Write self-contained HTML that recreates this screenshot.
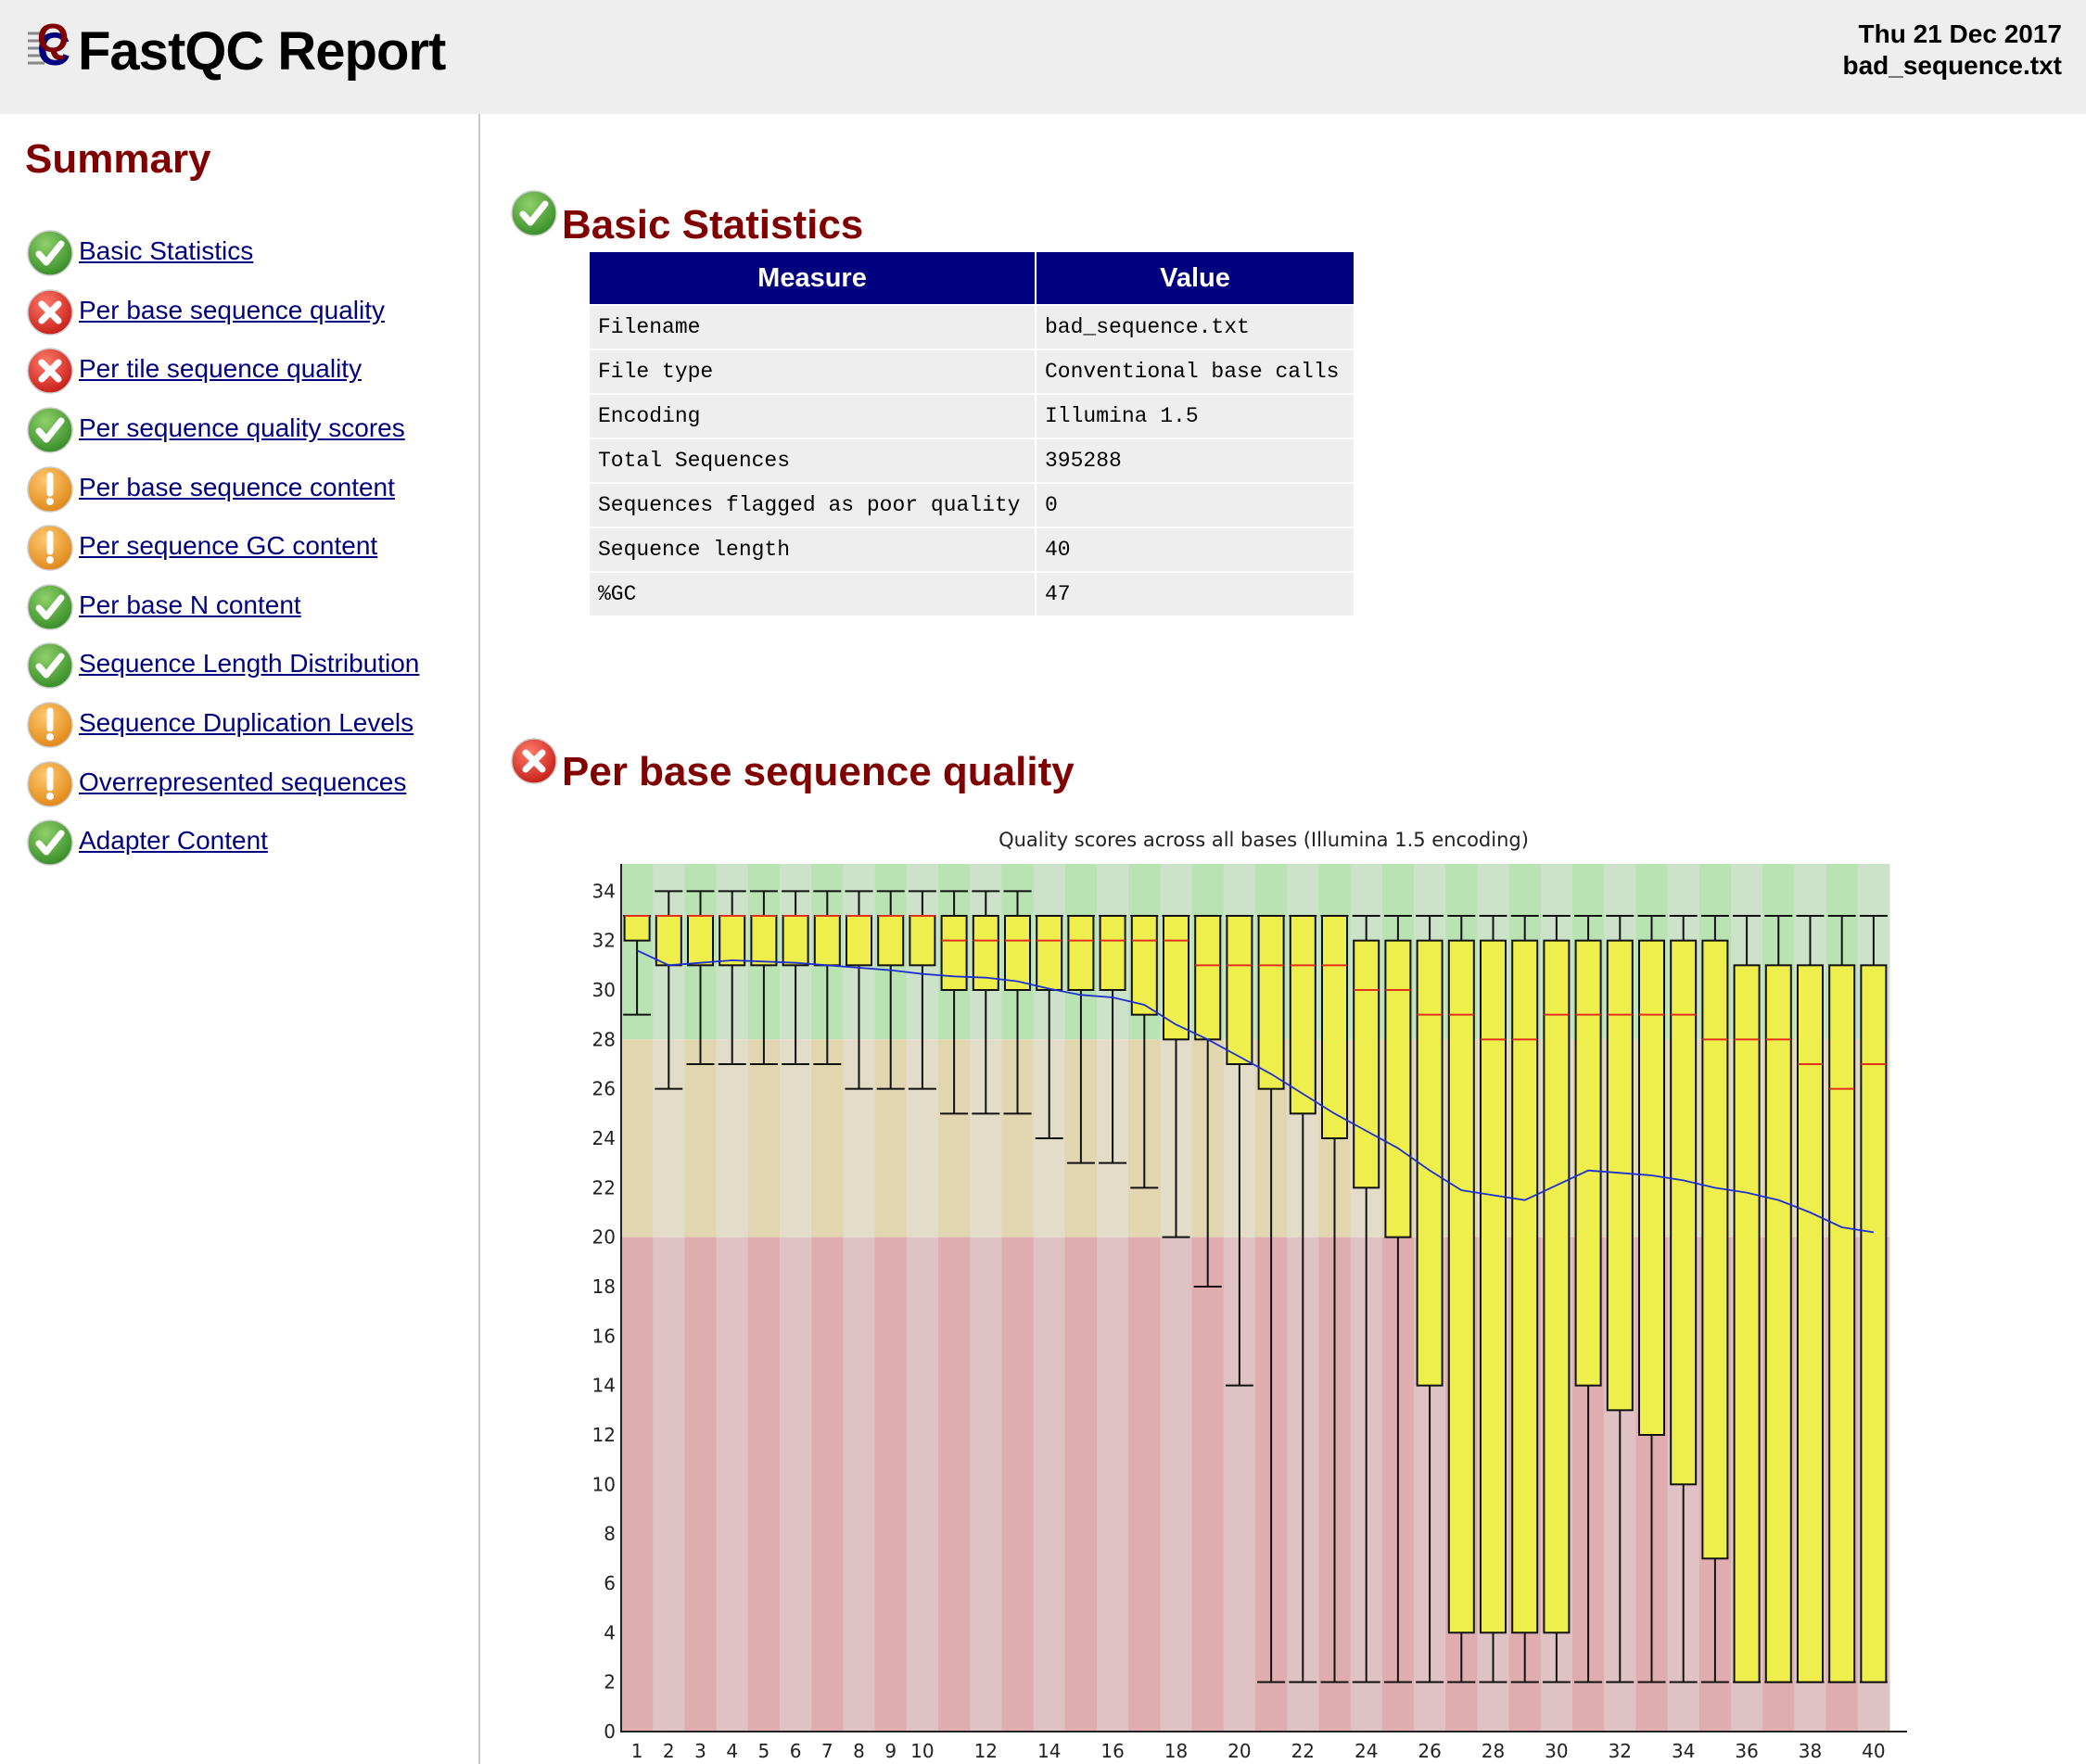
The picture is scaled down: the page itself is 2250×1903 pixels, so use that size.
<!DOCTYPE html>
<html><head><meta charset="utf-8">
<style>
html,body{margin:0;padding:0;width:2250px;height:1903px;overflow:hidden;background:#fff;font-family:"Liberation Sans",Arial,sans-serif;}
.abs{position:absolute;}
#header{left:0;top:0;width:2250px;height:123px;background:#eeeeee;}
#title{left:84px;top:22px;font-size:58px;font-weight:bold;color:#000;letter-spacing:-1px;}
#date{right:26px;top:20px;font-size:28px;font-weight:bold;text-align:right;line-height:34px;}
#sidebar-line{left:516px;top:123px;width:2px;height:1780px;background:#c8c8c8;}
#summary{left:27px;top:147px;font-size:44px;font-weight:bold;color:#800000;}
.item{position:absolute;left:28px;height:56px;}
.item a{position:absolute;left:57px;top:8px;font-size:28px;color:#000080;text-decoration:underline;white-space:nowrap;}
.icon{position:absolute;left:0;top:0;width:52px;height:52px;}
.h2{position:absolute;font-size:44px;font-weight:bold;color:#800000;white-space:nowrap;}
table{position:absolute;left:636px;top:272px;border-collapse:separate;border-spacing:2px 2px;margin:-2px;}
th{background:#000080;color:#fff;font-size:29px;height:56px;font-weight:bold;padding:0;}
td{background:#eeeeee;font-family:"Liberation Mono",monospace;font-size:23px;height:46px;padding:0 0 0 9px;}
</style></head><body>
<div id="header" class="abs"></div>
<svg class="abs" style="left:28px;top:18px" width="62" height="70">
<g stroke="#888" stroke-width="3"><line x1="2" y1="18" x2="20" y2="18"/><line x1="2" y1="26" x2="20" y2="26"/><line x1="2" y1="34" x2="20" y2="34"/><line x1="2" y1="42" x2="20" y2="42"/><line x1="2" y1="50" x2="20" y2="50"/></g>
<text x="12" y="52" font-size="50" font-weight="bold" fill="#000080" font-family="Liberation Sans">C</text>
<text x="12" y="38" font-size="44" font-weight="bold" fill="#800000" font-family="Liberation Sans">Q</text>
</svg>
<div id="title" class="abs">FastQC Report</div>
<div id="date" class="abs">Thu 21 Dec 2017<br>bad_sequence.txt</div>
<div id="sidebar-line" class="abs"></div>
<div id="summary" class="abs">Summary</div>

<svg width="0" height="0" style="position:absolute">
<defs>
<radialGradient id="gG" cx="0.4" cy="0.3" r="0.7"><stop offset="0" stop-color="#8fd06a"/><stop offset="1" stop-color="#3a8f2a"/></radialGradient>
<radialGradient id="gR" cx="0.4" cy="0.3" r="0.7"><stop offset="0" stop-color="#ff7a6a"/><stop offset="1" stop-color="#c8221a"/></radialGradient>
<radialGradient id="gO" cx="0.4" cy="0.3" r="0.7"><stop offset="0" stop-color="#ffc870"/><stop offset="1" stop-color="#e08a1a"/></radialGradient>
<symbol id="ok" viewBox="0 0 52 52"><circle cx="26" cy="26" r="24" fill="url(#gG)" stroke="#ccc" stroke-width="1.5"/><path d="M14 27 L22 36 L38 16" stroke="#fff" stroke-width="7" fill="none" stroke-linecap="round" stroke-linejoin="round"/></symbol>
<symbol id="fail" viewBox="0 0 52 52"><circle cx="26" cy="26" r="24" fill="url(#gR)" stroke="#ccc" stroke-width="1.5"/><path d="M17 17 L35 35 M35 17 L17 35" stroke="#fff" stroke-width="7" stroke-linecap="round"/></symbol>
<symbol id="warn" viewBox="0 0 52 52"><circle cx="26" cy="26" r="24" fill="url(#gO)" stroke="#ccc" stroke-width="1.5"/><path d="M26 11 L26 30" stroke="#fff" stroke-width="7" stroke-linecap="round"/><circle cx="26" cy="39" r="4" fill="#fff"/></symbol>
</defs></svg>

<div class="item" style="top:247px"><svg class="icon"><use href="#ok"/></svg><a>Basic Statistics</a></div>
<div class="item" style="top:311px"><svg class="icon"><use href="#fail"/></svg><a>Per base sequence quality</a></div>
<div class="item" style="top:374px"><svg class="icon"><use href="#fail"/></svg><a>Per tile sequence quality</a></div>
<div class="item" style="top:438px"><svg class="icon"><use href="#ok"/></svg><a>Per sequence quality scores</a></div>
<div class="item" style="top:502px"><svg class="icon"><use href="#warn"/></svg><a>Per base sequence content</a></div>
<div class="item" style="top:565px"><svg class="icon"><use href="#warn"/></svg><a>Per sequence GC content</a></div>
<div class="item" style="top:629px"><svg class="icon"><use href="#ok"/></svg><a>Per base N content</a></div>
<div class="item" style="top:692px"><svg class="icon"><use href="#ok"/></svg><a>Sequence Length Distribution</a></div>
<div class="item" style="top:756px"><svg class="icon"><use href="#warn"/></svg><a>Sequence Duplication Levels</a></div>
<div class="item" style="top:820px"><svg class="icon"><use href="#warn"/></svg><a>Overrepresented sequences</a></div>
<div class="item" style="top:883px"><svg class="icon"><use href="#ok"/></svg><a>Adapter Content</a></div>

<svg class="abs" style="left:550px;top:204px" width="52" height="52"><use href="#ok"/></svg>
<div class="h2" style="left:606px;top:218px">Basic Statistics</div>
<table>
<tr><th style="width:480px">Measure</th><th style="width:342px">Value</th></tr>
<tr><td>Filename</td><td>bad_sequence.txt</td></tr>
<tr><td>File type</td><td>Conventional base calls</td></tr>
<tr><td>Encoding</td><td>Illumina 1.5</td></tr>
<tr><td>Total Sequences</td><td>395288</td></tr>
<tr><td>Sequences flagged as poor quality</td><td>0</td></tr>
<tr><td>Sequence length</td><td>40</td></tr>
<tr><td>%GC</td><td>47</td></tr>
</table>

<svg class="abs" style="left:550px;top:795px" width="52" height="52"><use href="#fail"/></svg>
<div class="h2" style="left:606px;top:808px">Per base sequence quality</div>

<svg id="chart" class="abs" style="left:0;top:0" width="2250" height="1903"></svg>
<script>
const bases = [1,2,3,4,5,6,7,8,9,10,11,12,13,14,15,16,17,18,19,20,21,22,23,24,25,26,27,28,29,30,31,32,33,34,35,36,37,38,39,40];
const lows  = [29,26,27,27,27,27,27,26,26,26,25,25,25,24,23,23,22,20,18,14,2,2,2,2,2,2,2,2,2,2,2,2,2,2,2,2,2,2,2,2];
const q1s   = [32,31,31,31,31,31,31,31,31,31,30,30,30,30,30,30,29,28,28,27,26,25,24,22,20,14,4,4,4,4,14,13,12,10,7,2,2,2,2,2];
const meds  = [33,33,33,33,33,33,33,33,33,33,32,32,32,32,32,32,32,32,31,31,31,31,31,30,30,29,29,28,28,29,29,29,29,29,28,28,28,27,26,27];
const q3s   = [33,33,33,33,33,33,33,33,33,33,33,33,33,33,33,33,33,33,33,33,33,33,33,32,32,32,32,32,32,32,32,32,32,32,32,31,31,31,31,31];
const highs = [33,34,34,34,34,34,34,34,34,34,34,34,34,33,33,33,33,33,33,33,33,33,33,33,33,33,33,33,33,33,33,33,33,33,33,33,33,33,33,33];
const means = [31.6,31.0,31.1,31.2,31.15,31.1,31.0,30.9,30.8,30.65,30.55,30.5,30.35,30.05,29.8,29.7,29.4,28.6,28.0,27.3,26.6,25.8,25.0,24.3,23.6,22.7,21.9,21.7,21.5,22.1,22.7,22.6,22.5,22.3,22.0,21.8,21.5,21.0,20.4,20.2];
const yTicks = [0,2,4,6,8,10,12,14,16,18,20,22,24,26,28,30,32,34];
const xTickLabels = [1,2,3,4,5,6,7,8,9,10,12,14,16,18,20,22,24,26,28,30,32,34,36,38,40];
const yMax = 35.1;

const L=670, R=2038, B=1868, T=932;
const bw=(R-L)/bases.length;
const y=v=>B-(B-T)*v/yMax;
const xc=b=>L+bw*(b-0.5);
const svg=document.getElementById('chart');
const NS='http://www.w3.org/2000/svg';
function mk(tag,attrs,parent){const e=document.createElementNS(NS,tag);for(const k in attrs)e.setAttribute(k,attrs[k]);(parent||svg).appendChild(e);return e;}

bases.forEach((b,i)=>{
  const odd=i%2===0;
  const zones=[[28,yMax,odd?'#b9e3b3':'#cce3c9'],[20,28,odd?'#e2d6b0':'#e3dcc8'],[0,20,odd?'#dfadb0':'#dfc2c4']];
  zones.forEach(z=>{
    const r=mk('rect',{x:L+bw*i,y:y(z[1]),width:bw+0.5,height:y(z[0])-y(z[1]),fill:z[2]});
    
    
  });
});
bases.forEach((b,i)=>{
  const cx=xc(b), hw=13.5, cw=15;
  const g=mk('g',{});
  
  
  mk('line',{x1:cx,x2:cx,y1:y(highs[i]),y2:y(lows[i]),stroke:'#111','stroke-width':2},g);
  mk('line',{x1:cx-cw,x2:cx+cw,y1:y(highs[i]),y2:y(highs[i]),stroke:'#111','stroke-width':2},g);
  mk('line',{x1:cx-cw,x2:cx+cw,y1:y(lows[i]),y2:y(lows[i]),stroke:'#111','stroke-width':2},g);
  mk('rect',{x:cx-hw,y:y(q3s[i]),width:hw*2,height:Math.max(0,y(q1s[i])-y(q3s[i])),fill:'#eeee4c',stroke:'#111','stroke-width':2},g);
  mk('line',{x1:cx-hw,x2:cx+hw,y1:y(meds[i]),y2:y(meds[i]),stroke:'#e0301e','stroke-width':2},g);
});
const pts=bases.map((b,i)=>xc(b)+','+y(means[i])).join(' ');
const ml=mk('polyline',{points:pts,fill:'none',stroke:'#2030d0','stroke-width':1.8});


const ya=mk('line',{x1:L,x2:L,y1:T,y2:B+1,stroke:'#222','stroke-width':2});


const xa=mk('line',{x1:L,x2:2057,y1:B,y2:B,stroke:'#222','stroke-width':2});


yTicks.forEach(v=>{
  const t=mk('text',{x:664,y:y(v)+7,'text-anchor':'end','font-size':20,'font-family':'DejaVu Sans, sans-serif',fill:'#222'});
  t.textContent=v;
  
  
});
xTickLabels.forEach(v=>{
  const t=mk('text',{x:xc(v),y:1896,'text-anchor':'middle','font-size':20,'font-family':'DejaVu Sans, sans-serif',fill:'#222'});
  t.textContent=v;
  
  
});
const title=mk('text',{x:1363,y:913,'text-anchor':'middle','font-size':21,'font-family':'DejaVu Sans, sans-serif',fill:'#222'});
title.textContent='Quality scores across all bases (Illumina 1.5 encoding)';


</script>
</body></html>
